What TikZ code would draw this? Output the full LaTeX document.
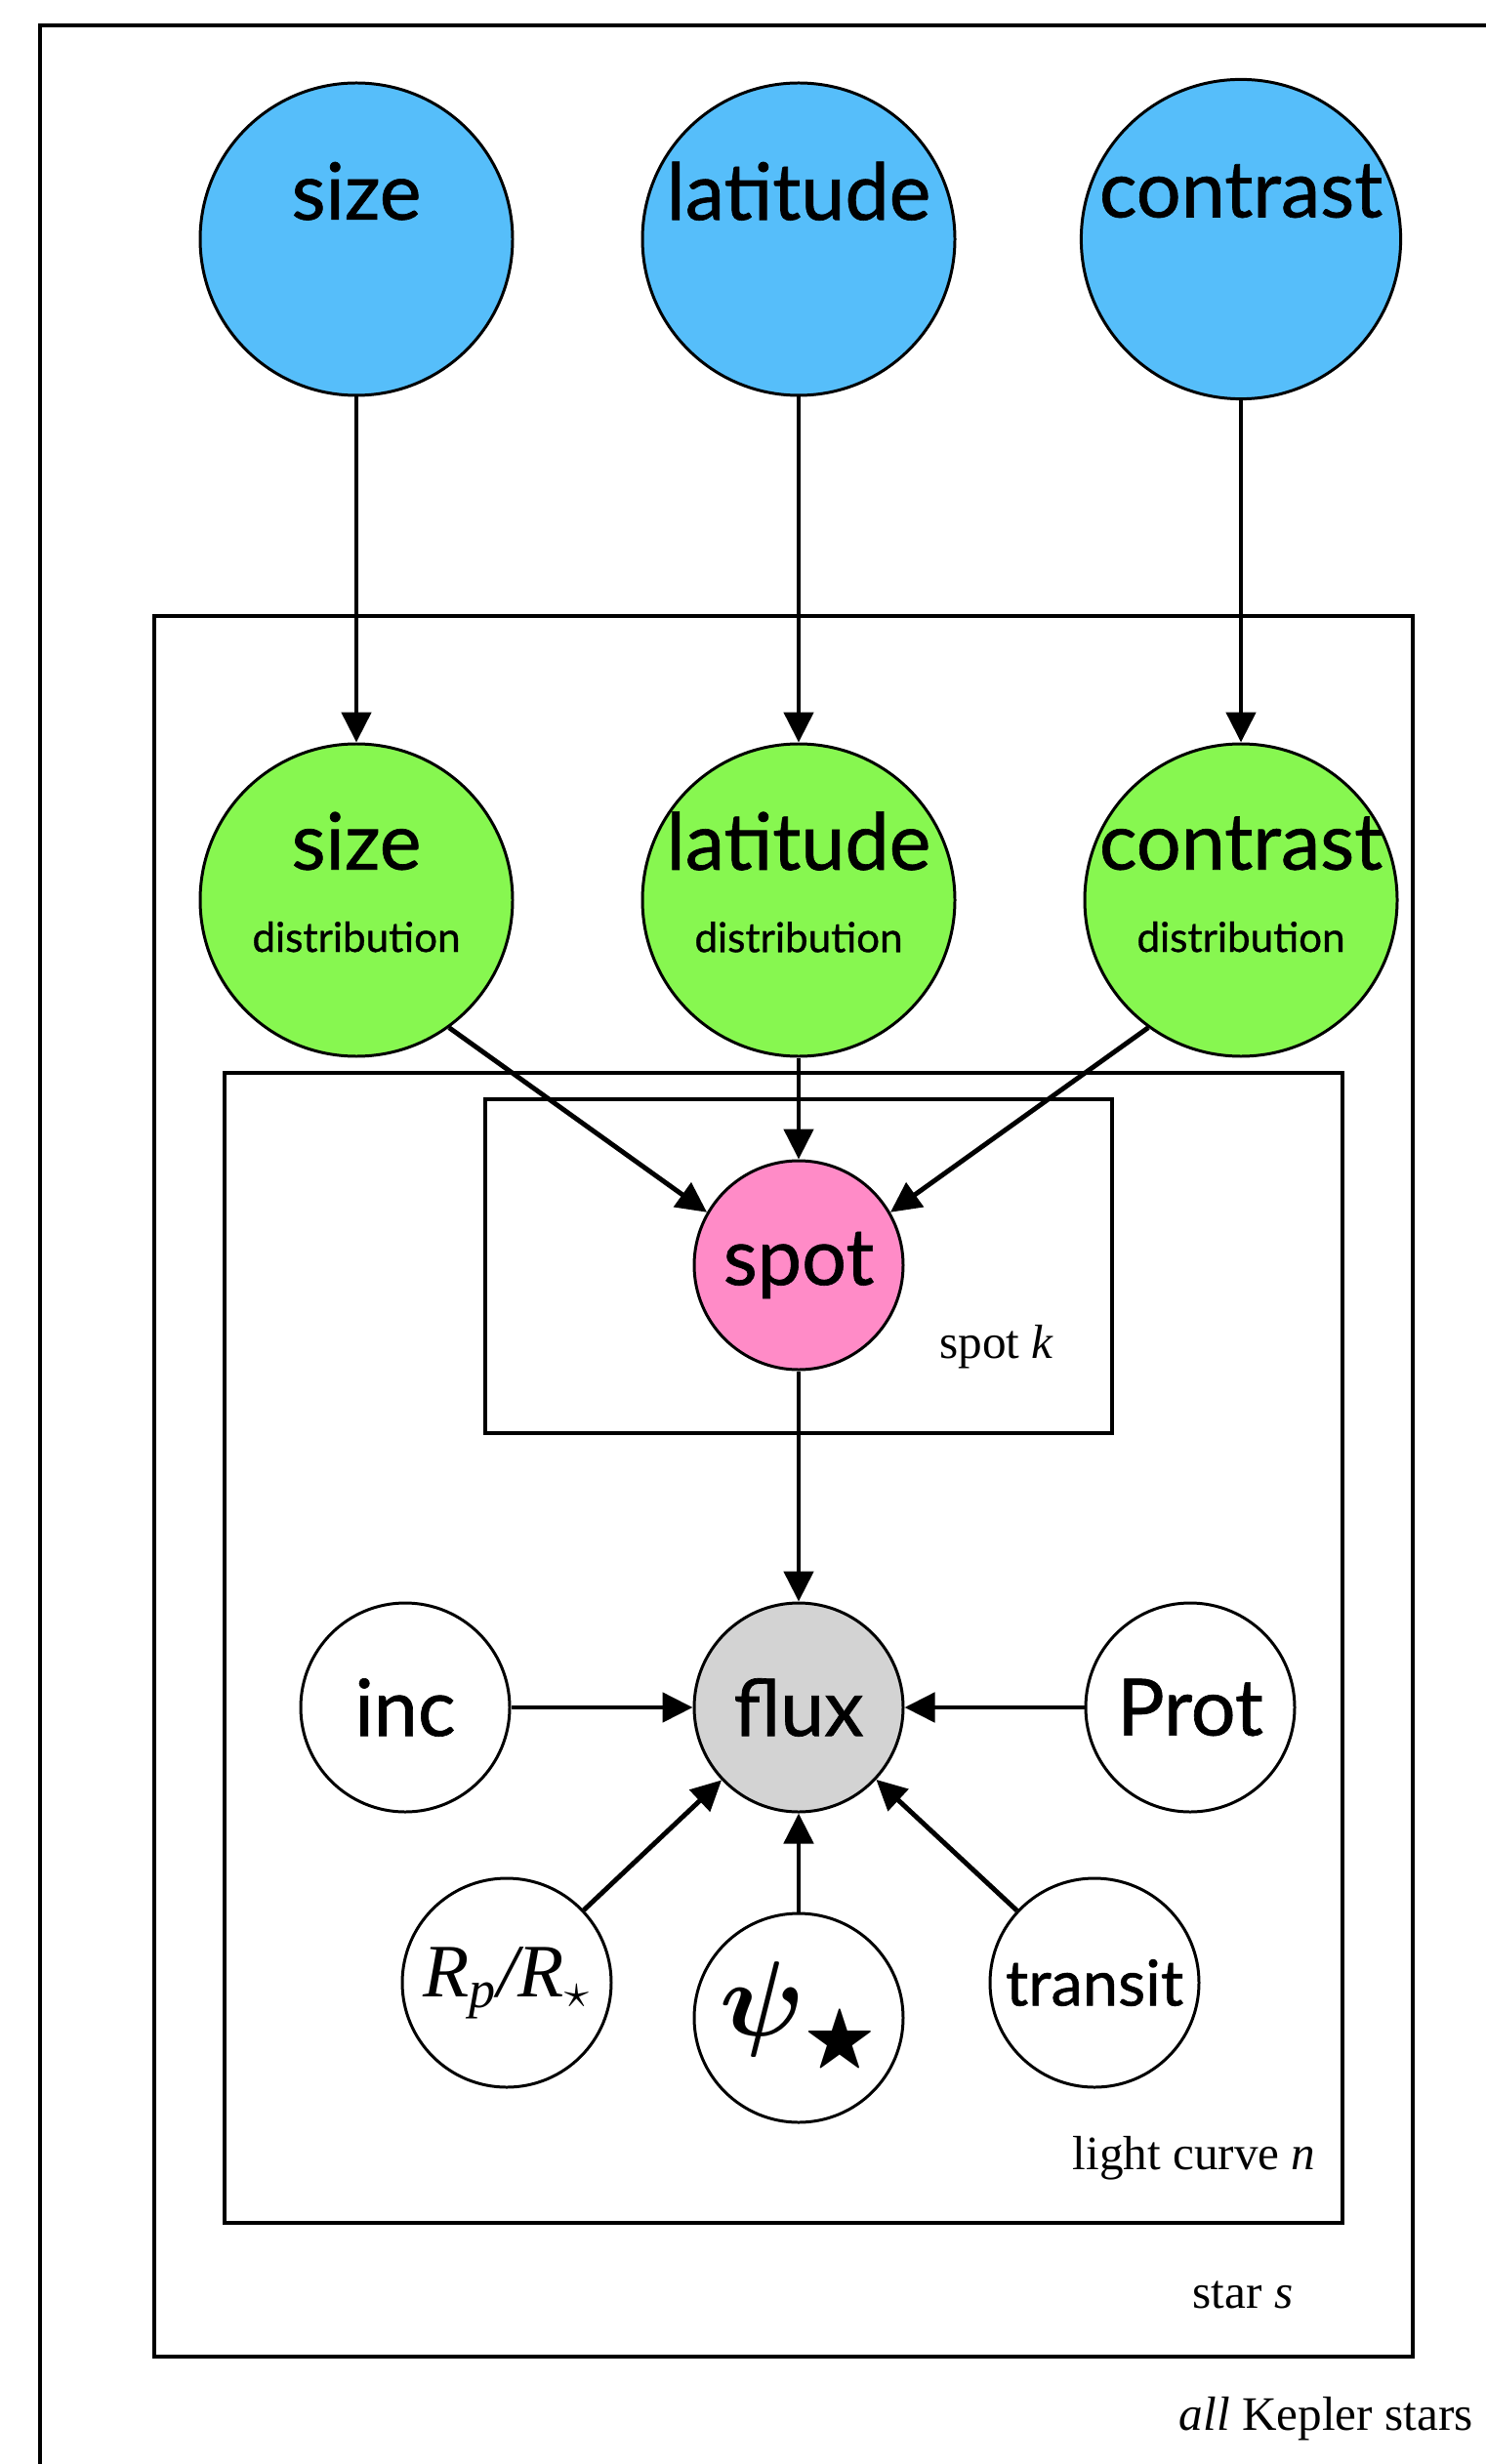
\documentclass[tikz,border=0pt]{standalone}
\usepackage{amsmath}
\usepackage{amssymb}
\usepackage{fontspec}
\usepackage{tikz}
\usetikzlibrary{positioning, arrows.meta}

\newfontfamily\nodefont{Lato}[FakeBold=0.8]
\newfontfamily\platefont{Liberation Serif}

\definecolor{hyperblue}{RGB}{86,190,250}
\definecolor{distgreen}{RGB}{135,247,80}
\definecolor{spotpink}{RGB}{255,139,199}
\definecolor{fluxgrey}{RGB}{211,211,211}

% small second line under a variable name
\newcommand{\sub}[1]{{\fontsize{12}{14}\selectfont #1}}
\newcommand{\distlabel}[1]{\makebox[0pt]{\raisebox{0.06cm}[\height][\depth]{\begin{tabular}{@{}c@{}}#1\\\sub{distribution}\end{tabular}}}}

\begin{document}
\begin{tikzpicture}[node distance=4.53cm, auto, >={Triangle[length=3.1mm, width=3mm]}]
        % Define node styles
        \tikzstyle{var} = [circle, draw, line width=0.85pt, inner sep=0pt, align=center, font=\nodefont\fontsize{23}{24}\selectfont]
        \tikzstyle{hyper} = [var, fill=hyperblue, minimum size=3.2cm]
        \tikzstyle{dist} = [var, fill=distgreen, minimum size=3.2cm]
        \tikzstyle{param} = [var, fill=white, minimum size=2.14cm]
        \tikzstyle{plate} = [draw, line width=1.4pt]
        \tikzstyle{platelabel} = [font=\platefont\fontsize{14}{16}\selectfont]
        \tikzstyle{edge} = [->, line width=1.4pt]

        \useasboundingbox (0,0) rectangle (15.22,-25.24);

        % Plates
        \draw [plate, line width=1.1pt] (0.41,-0.26) rectangle (15.8,-25.8);
        \draw [plate] (1.58,-6.31) rectangle (14.47,-24.14);
        \draw [plate] (2.30,-10.99) rectangle (13.75,-22.77);
        \draw [plate] (4.97,-11.26) rectangle (11.39,-14.68);

        % Place nodes
        \node [hyper] at (3.65,-2.45) (size) {size\\\sub{\strut}};
        \node [hyper, right of=size] (latitude) {latitude\\\sub{\strut}};
        \node [hyper, right of=latitude] (contrast) {contrast\\\sub{\strut}};

        \node [dist, below of=size, node distance=6.77cm] (size_dist) {\distlabel{size}};
        \node [dist, below of=latitude, node distance=6.77cm] (latitude_dist) {\distlabel{latitude}};
        \node [dist, below of=contrast, node distance=6.77cm] (contrast_dist) {\distlabel{contrast}};

        \node [param, fill=spotpink, below of=latitude_dist, node distance=3.74cm] (spot) {spot};
        \node [param, fill=fluxgrey, below of=spot] (flux) {flux};
        \node [param, left of=flux, node distance=4.03cm] (inc) {inc};
        \node [param, right of=flux, node distance=4.01cm] (prot) {Prot};
        \node [param, below of=flux, node distance=3.18cm, font=\fontsize{20.74}{22}\selectfont] (psi_star) {\scalebox{1.5}{$\boldsymbol{\psi}_{\bigstar}$}};
        \node [param, left of=psi_star, node distance=2.99cm, yshift=0.36cm, font=\platefont\fontsize{22}{24}\selectfont] (radius_ratio) {\textit{R\textsubscript{p}/R}$_\star$};
        \node [param, right of=psi_star, node distance=3.03cm, yshift=0.36cm, font=\nodefont\fontsize{18.5}{20}\selectfont] (transit) {transit};

        % Plate labels
        \node [platelabel] at (10.21,-13.80) (spot_label) {spot \textit{k}};
        \node [platelabel] at (12.23,-22.11) (curve_label) {light curve \textit{n}};
        \node [platelabel] at (12.73,-23.51) (star_label) {star \textit{s}};
        \node [platelabel, anchor=east] at (15.21,-24.78) (all_label) {\textit{all} Kepler stars};

        % Draw connections as arrows
        \draw [edge] (size) -- (size_dist);
        \draw [edge] (latitude) -- (latitude_dist);
        \draw [edge] (contrast) -- (contrast_dist);
        \draw [edge] (size_dist.-54) -- (spot.150);
        \draw [edge] (latitude_dist) -- (spot);
        \draw [edge] (contrast_dist.234) -- (spot.30);
        \draw [edge] (spot) -- (flux);
        \draw [edge] (inc) -- (flux);
        \draw [edge] (prot) -- (flux);
        \draw [edge] (radius_ratio) -- (flux);
        \draw [edge] (psi_star) -- (flux);
        \draw [edge] (transit) -- (flux);
    \end{tikzpicture}
\end{document}
